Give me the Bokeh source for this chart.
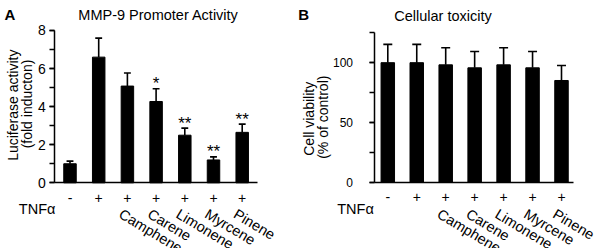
import math
from bokeh.plotting import figure
from bokeh.layouts import row
from bokeh.models import (Range1d, SingleIntervalTicker, FixedTicker,
                          LinearAxis, ColumnDataSource)
from bokeh.embed import file_html
from bokeh.resources import INLINE
from bokeh.core.properties import value

FONT = "Liberation Sans"

# ---- data ----
positions = [0, 1, 2, 3, 4, 5, 6]
tnf_signs = ["-", "+", "+", "+", "+", "+", "+"]
compounds = ["Camphene", "Carene", "Limonene", "Myrcene", "Pinene"]
compound_pos = [2, 3, 4, 5, 6]

luciferase = [1.0, 6.6, 5.08, 4.27, 2.5, 1.2, 2.65]
luciferase_err = [0.14, 1.0, 0.69, 0.67, 0.37, 0.16, 0.43]
luciferase_sig = ["", "", "", "*", "**", "**", "**"]

viability = [100, 100, 98.2, 95.7, 98.2, 95.7, 85.1]
viability_err = [15.3, 15.3, 14.3, 13.7, 14.3, 13.7, 12.6]
viability_sig = ["", "", "", "", "", "", ""]

H = 248


def make_panel(letter, title, ylab_lines, vals, errs, sig, width, y_end,
               interval, tick_font, standoff, bar_w, cap_half,
               x0px, sx, zero_py, sy, axis_px, axis_end_px,
               letter_px, title_px, ylab_px, tnf_px):
    # pixel -> data helpers (the frame fills the whole figure)
    def X(px):
        return (px - x0px) / sx

    def Y(py):
        return (zero_py - py) / sy

    p = figure(width=width, height=H, output_backend="svg",
               toolbar_location=None, x_axis_type=None, y_axis_type=None,
               x_range=Range1d(X(0), X(width)), y_range=Range1d(Y(H), Y(0)))
    p.min_border = 0
    p.min_border_left = 0
    p.min_border_right = 0
    p.min_border_top = 0
    p.min_border_bottom = 0
    p.outline_line_color = None
    p.grid.visible = False
    p.background_fill_color = "white"
    p.border_fill_color = "white"

    upper = [v + e for v, e in zip(vals, errs)]
    src = ColumnDataSource(dict(x=positions, top=vals, upper=upper,
                                star_y=[u + 5.0 / sy for u in upper],
                                cl=[x - cap_half for x in positions],
                                cr=[x + cap_half for x in positions],
                                sig=sig))
    p.segment(x0="x", y0="top", x1="x", y1="upper", source=src,
              line_color="black", line_width=1.6)
    p.segment(x0="cl", y0="upper", x1="cr", y1="upper", source=src,
              line_color="black", line_width=1.6)
    p.vbar(x="x", top="top", bottom=0, width=bar_w, source=src,
           fill_color="black", line_color="black")
    p.text(x="x", y="star_y", text="sig", source=src,
           text_font=value(FONT), text_font_size=value("17px"),
           text_align="center", text_baseline="alphabetic", text_color="black")

    # y axis
    ya = LinearAxis(fixed_location=X(axis_px), bounds=(0, y_end))
    ya.ticker = SingleIntervalTicker(interval=interval, num_minor_ticks=2)
    ya.axis_line_width = 1.5
    ya.axis_line_color = "black"
    ya.major_tick_line_width = 1.5
    ya.minor_tick_line_width = 1.5
    ya.major_tick_line_color = "black"
    ya.minor_tick_line_color = "black"
    ya.major_tick_in = 0
    ya.major_tick_out = 5
    ya.minor_tick_in = 0
    ya.minor_tick_out = 5
    ya.major_label_standoff = standoff
    ya.major_label_text_font = FONT
    ya.major_label_text_font_size = tick_font
    ya.major_label_text_color = "black"
    p.add_layout(ya, "left")

    # x axis: TNF alpha signs as tick labels
    xa = LinearAxis(fixed_location=0, bounds=(X(axis_px), X(axis_end_px)))
    xa.ticker = FixedTicker(ticks=positions)
    xa.major_label_overrides = {i: s for i, s in zip(positions, tnf_signs)}
    xa.axis_line_width = 1.5
    xa.axis_line_color = "black"
    xa.major_tick_line_color = None
    xa.minor_tick_line_color = None
    xa.major_tick_in = 0
    xa.major_tick_out = 0
    xa.major_label_standoff = 10
    xa.major_label_text_font = FONT
    xa.major_label_text_font_size = "14px"
    xa.major_label_text_color = "black"
    p.add_layout(xa, "below")

    txt = dict(text_font=value(FONT), text_color="black")
    # TNF alpha row title
    p.text(x=[X(tnf_px[0])], y=[Y(tnf_px[1])], text=["TNF\u03b1"],
           text_font_size=value("14.5px"), text_align="left",
           text_baseline="alphabetic", **txt)
    # compound names, rotated
    p.text(x=[X(x0px + c * sx - 3) for c in compound_pos],
           y=[Y(205.3)] * len(compound_pos), text=compounds,
           angle=math.radians(-31), text_font_size=value("14.5px"),
           text_align="left", text_baseline="top", **txt)
    # title and panel letter
    p.text(x=[X(title_px[0])], y=[Y(title_px[1])], text=[title],
           text_font_size=value("14.5px"), text_align="center",
           text_baseline="alphabetic", **txt)
    p.text(x=[X(letter_px[0])], y=[Y(letter_px[1])], text=[letter],
           text_font_size=value("15px"), text_font_style="bold",
           text_align="left", text_baseline="alphabetic", **txt)
    # y axis title (two lines)
    p.text(x=[X(ylab_px[0][0]), X(ylab_px[1][0])],
           y=[Y(ylab_px[0][1]), Y(ylab_px[1][1])], text=ylab_lines,
           angle=math.pi / 2, text_font_size=value("14px"),
           text_align="center", text_baseline="middle", **txt)
    return p


pa = make_panel("A", "MMP-9 Promoter Activity",
                ["Luciferase activity", "(fold inducton)"],
                luciferase, luciferase_err, luciferase_sig,
                width=296, y_end=8, interval=2, tick_font="14px", standoff=4,
                bar_w=0.435, cap_half=0.12,
                x0px=69.5, sx=28.7, zero_py=182.3, sy=19.04,
                axis_px=54.3, axis_end_px=257.3,
                letter_px=(4, 13.5), title_px=(158, 14),
                ylab_px=[(12.8, 104.7), (26.8, 103.5)], tnf_px=(18.3, 208.3))

pb = make_panel("B", "Cellular toxicity",
                ["Cell viability", "(% of control)"],
                viability, viability_err, viability_sig,
                width=304, y_end=125, interval=50, tick_font="12px", standoff=16,
                bar_w=0.466, cap_half=0.155,
                x0px=91.3, sx=28.95, zero_py=181.7, sy=1.1952,
                axis_px=77.5, axis_end_px=277.3,
                letter_px=(1.7, 14), title_px=(146.5, 15),
                ylab_px=[(12.2, 118.3), (26, 116.7)], tnf_px=(40.7, 208.3))

layout = row(pa, pb)
open("out.html", "w").write(file_html(layout, INLINE))
